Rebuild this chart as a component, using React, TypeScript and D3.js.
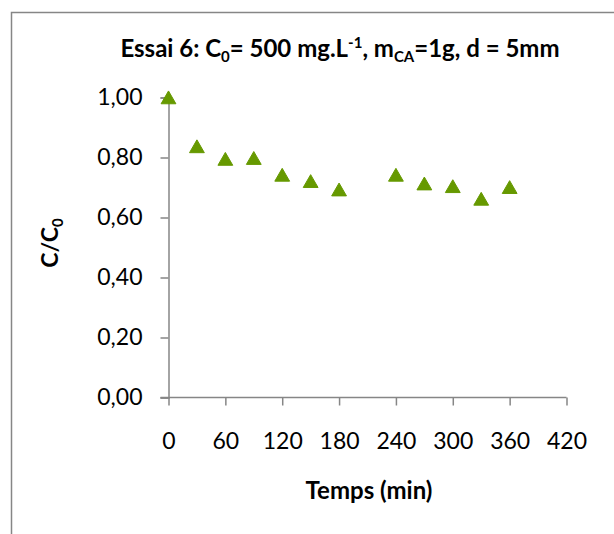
import React, { useEffect, useRef } from 'react';
import * as d3 from 'd3';

// temps (min) et C/C0
const temps = [0, 30, 60, 90, 120, 150, 180, 240, 270, 300, 330, 360];
const ratio = [1.0, 0.837, 0.795, 0.798, 0.742, 0.721, 0.693, 0.742, 0.713, 0.704, 0.662, 0.701];
const xTicks = [0, 60, 120, 180, 240, 300, 360, 420];
const yTicks = [0, 0.2, 0.4, 0.6, 0.8, 1.0];

const App = () => {
  const svgRef = useRef(null);

  useEffect(() => {
    const width = 614;
    const height = 534;
    const font = 'Lato, "Open Sans", sans-serif';
    const axisColor = '#868686';

    const svg = d3.select(svgRef.current);
    svg.selectAll('*').remove(); // clear previous render

    // outer chart frame (right and bottom edges fall outside the picture)
    svg.append('rect')
      .attr('x', 11.5)
      .attr('y', 12.5)
      .attr('width', 700)
      .attr('height', 600)
      .attr('fill', 'white')
      .attr('stroke', axisColor)
      .attr('stroke-width', 1.5);

    const x = d3.scaleLinear().domain([0, 420]).range([168.5, 566.5]);
    const y = d3.scaleLinear().domain([0, 1]).range([397.5, 97.5]);

    // y axis
    const yAxis = svg.append('g')
      .attr('transform', `translate(${x(0)},0)`)
      .call(d3.axisLeft(y).tickValues(yTicks).tickSize(8).tickPadding(18)
        .tickFormat(d => d3.format('.2f')(d).replace('.', ',')));
    yAxis.select('.domain').attr('stroke', axisColor).attr('stroke-width', 1.5);
    yAxis.selectAll('.tick line').attr('stroke', axisColor).attr('stroke-width', 1.5);
    yAxis.selectAll('.tick text')
      .attr('fill', '#000')
      .style('font', `23px ${font}`);

    // x axis
    const xAxis = svg.append('g')
      .attr('transform', `translate(0,${y(0)})`)
      .call(d3.axisBottom(x).tickValues(xTicks).tickSize(8).tickPadding(27)
        .tickFormat(d3.format('d')));
    xAxis.select('.domain').attr('stroke', axisColor).attr('stroke-width', 1.5);
    xAxis.selectAll('.tick line').attr('stroke', axisColor).attr('stroke-width', 1.5);
    xAxis.selectAll('.tick text')
      .attr('fill', '#000')
      .style('font', `23px ${font}`);
    // y axis tick sticks out to the left of 0 on x axis too
    xAxis.select('.domain').attr('d', `M${x(0) - 8},0H${x(420)}`);

    // markers (shifted so the triangle's box is centred on the value)
    const tri = d3.symbol().type(d3.symbolTriangle).size(95);
    svg.append('g')
      .selectAll('path')
      .data(temps.map((t, i) => ({ t, v: ratio[i] })))
      .join('path')
      .attr('d', tri)
      .attr('transform', d => `translate(${x(d.t)},${y(d.v) + 2})`)
      .attr('fill', '#669900')
      .attr('stroke', '#669900')
      .attr('stroke-width', 1);

    // title
    const title = svg.append('text')
      .attr('x', 340)
      .attr('y', 57)
      .attr('text-anchor', 'middle')
      .style('font', `bold 24px ${font}`)
      .attr('fill', '#000');
    title.append('tspan').text('Essai 6: C');
    title.append('tspan').attr('dy', 5).style('font-size', '15px').text('0');
    title.append('tspan').attr('dy', -5).text('= 500 mg.L');
    title.append('tspan').attr('dy', -9).style('font-size', '15px').text('-1');
    title.append('tspan').attr('dy', 9).text(', m');
    title.append('tspan').attr('dy', 5).style('font-size', '15px').text('CA');
    title.append('tspan').attr('dy', -5).text('=1g, d = 5mm');

    // axis titles
    svg.append('text')
      .attr('x', 369)
      .attr('y', 499)
      .attr('text-anchor', 'middle')
      .style('font', `bold 24px ${font}`)
      .attr('fill', '#000')
      .text('Temps (min)');

    const yTitle = svg.append('text')
      .attr('transform', `translate(58,243) rotate(-90)`)
      .attr('text-anchor', 'middle')
      .style('font', `bold 23px ${font}`)
      .attr('fill', '#000');
    yTitle.append('tspan').text('C/C');
    yTitle.append('tspan').attr('dy', 5).style('font-size', '15px').text('0');

    svg.attr('width', width).attr('height', height);
  }, []);

  return (
    <div style={{ position: 'absolute', left: 0, top: 0 }}>
      <svg ref={svgRef} width={614} height={534} style={{ display: 'block', background: 'white' }}></svg>
    </div>
  );
};

export default App;
